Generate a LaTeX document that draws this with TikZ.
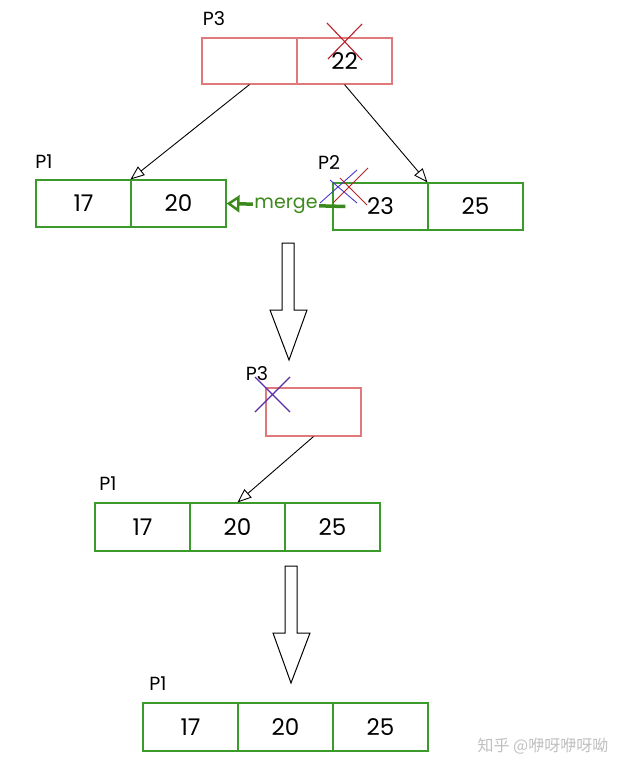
\documentclass[tikz,border=0pt]{standalone}
\usepackage{fontspec}
\setmainfont{Poppins}
\newfontfamily\cjkfont{Noto Sans CJK SC}
\usetikzlibrary{arrows.meta}
\definecolor{boxred}{HTML}{E07A7A}
\definecolor{boxgreen}{HTML}{3A9A2A}
\definecolor{mergegreen}{HTML}{3C8A1E}
\definecolor{xred}{HTML}{B8202A}
\definecolor{xblue}{HTML}{4A38C8}
\definecolor{xpurple}{HTML}{5A2AA8}
\tikzset{
  rcell/.style={draw=boxred, line width=1.1pt, minimum width=95pt, minimum height=46pt, inner sep=0pt, font=\fontsize{23}{23}\selectfont},
  gcell/.style={draw=boxgreen, line width=1.1pt, minimum width=95pt, minimum height=47pt, inner sep=0pt, font=\fontsize{23}{23}\selectfont},
  plabel/.style={font=\fontsize{19}{19}\selectfont, inner sep=0pt},
  ptr/.style={draw=black, line width=0.9pt, -{Triangle[open, length=14pt, width=11pt]}},
  bigarrow/.style={draw=black, line width=1pt, fill=white, line join=miter},
  xline/.style={line width=1.1pt},
}
\begin{document}
\begin{tikzpicture}[x=1pt,y=-1pt]
\useasboundingbox (0,0) rectangle (636,773);
% top P3
\node[plabel] (lp3) at (214,19) {P3};
\node[rcell] (t1) at (249.5,61) {};
\node[rcell] (t2) at (344.5,61) {22};
\draw[xline, xred] (327,23) -- (362,60);
\draw[xline, xred] (362,24) -- (328,59);
% P1 and P2
\node[plabel] (lp1) at (44,162) {P1};
\node[gcell] (a1) at (83.5,203.5) {17};
\node[gcell] (a2) at (178.5,203.5) {20};
\node[plabel] (lp2) at (329,163) {P2};
\node[gcell] (b1) at (380.5,206.5) {23};
\node[gcell] (b2) at (475.5,206.5) {25};
\draw[ptr] (t1.south) -- (a2.north west);
\draw[ptr] (t2.south) -- (b2.north west);
% crosses on P2
\draw[xline, xblue, line width=0.9pt] (320,203) -- (357,170);
\draw[xline, xblue, line width=0.9pt] (330,180) -- (357,203);
\draw[xline, xred, line width=0.9pt] (333,203) -- (368,168);
\draw[xline, xred, line width=0.9pt] (340,178) -- (367,205);
% merge
\coordinate (ms) at ([xshift=13pt]b1.west);
\draw[mergegreen, line width=3.5pt, -{Triangle[open, length=13pt, width=17pt, line width=2.5pt]}] (ms) -- node[fill=white, inner sep=1pt, text=mergegreen, font=\fontsize{19}{19}\selectfont, yshift=-1pt] (mg) {merge} (a2.east);
% big arrow 1
\draw[bigarrow] (282,243) -- (294,243) -- (294,310) -- (307,310) -- (289,360) -- (270,310) -- (282,310) -- cycle;
% middle P3
\node[rcell, minimum height=48pt] (m) at (313.5,412) {};
\node[plabel] (lp3b) at (257,374) {P3};
\draw[xline, xpurple] (255,377) -- (290,412);
\draw[xline, xpurple] (290,377) -- (255,412);
% middle P1
\node[plabel] (lp1b) at (108,484) {P1};
\node[gcell, minimum height=48pt] (c1) at (142.5,527) {17};
\node[gcell, minimum height=48pt] (c2) at (237.5,527) {20};
\node[gcell, minimum height=48pt] (c3) at (332.5,527) {25};
\draw[ptr] (m.south) -- (c2.north);
% big arrow 2
\draw[bigarrow] (285,566) -- (297,566) -- (297,633) -- (310,633) -- (291,683) -- (273,633) -- (285,633) -- cycle;
% bottom P1
\node[plabel] (lp1c) at (158,684) {P1};
\node[gcell, minimum height=48pt] (d1) at (190.5,727) {17};
\node[gcell, minimum height=48pt] (d2) at (285.5,727) {20};
\node[gcell, minimum height=48pt] (d3) at (380.5,727) {25};
% watermark
\node[text=black!25, font=\cjkfont\fontsize{16}{16}\selectfont, inner sep=0pt] (wm) at (543,746) {知乎 @咿呀咿呀呦};
\end{tikzpicture}
\end{document}
